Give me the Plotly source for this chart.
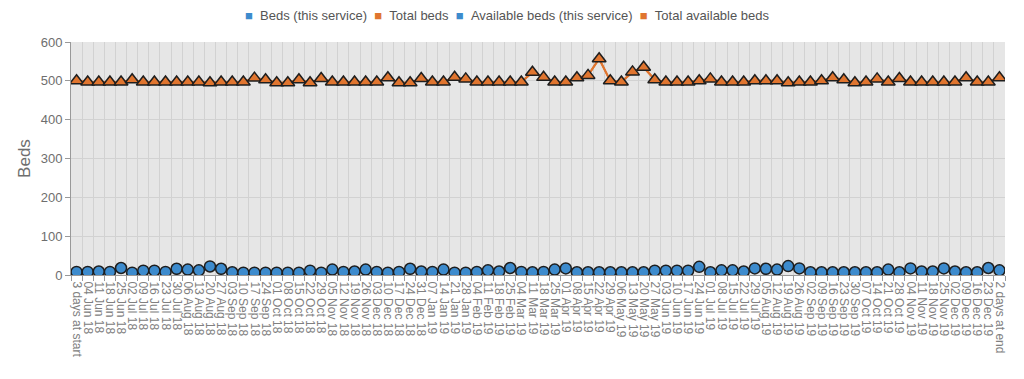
import plotly.graph_objects as go
import datetime as dt

# ---- data ----
start = dt.date(2018, 6, 4)
weeks = [start + dt.timedelta(weeks=i) for i in range(82)]
categories = ["3 days at start"] + [d.strftime("%d %b %y") for d in weeks] + ["2 days at end"]

total_beds = [
    500, 497, 497, 497, 497, 503, 497, 497, 497, 497,
    497, 497, 495, 497, 497, 497, 507, 503, 495, 495,
    503, 495, 506, 497, 497, 497, 497, 497, 508, 495,
    495, 506, 497, 497, 509, 505, 497, 497, 497, 497,
    497, 522, 509, 497, 497, 508, 514, 557, 500, 497,
    523, 535, 503, 497, 497, 497, 500, 505, 497, 497,
    497, 500, 500, 500, 495, 497, 497, 500, 508, 503,
    495, 497, 505, 497, 506, 497, 497, 497, 497, 497,
    508, 497, 497, 508,
]
total_available = list(total_beds)

service_beds = [
    8, 8, 9, 8, 18, 6, 11, 11, 8, 16,
    14, 12, 22, 16, 7, 6, 6, 6, 6, 6,
    6, 11, 6, 14, 8, 9, 14, 8, 6, 8,
    16, 9, 8, 14, 6, 6, 8, 12, 9, 18,
    8, 7, 8, 14, 17, 7, 7, 7, 7, 7,
    7, 7, 11, 11, 11, 11, 21, 7, 12, 12,
    9, 17, 16, 14, 23, 17, 7, 7, 7, 7,
    7, 7, 7, 14, 7, 17, 9, 9, 17, 9,
    7, 7, 18, 12,
]
service_available = list(service_beds)

series_names = ["Beds (this service)", "Total beds",
                "Available beds (this service)", "Total available beds"]

BLUE = "#3d8bcd"
ORANGE = "#e0752f"
OUTLINE = "#1e1e1e"

fig = go.Figure()

fig.add_trace(go.Scatter(x=categories, y=service_available, mode="lines",
                         line=dict(color="#4f7fa6", width=2), showlegend=False,
                         name=series_names[2]))
fig.add_trace(go.Scatter(x=categories, y=total_available, mode="lines",
                         line=dict(color=ORANGE, width=2), showlegend=False,
                         name=series_names[3]))
fig.add_trace(go.Scatter(x=categories, y=service_beds, mode="lines+markers",
                         line=dict(color=BLUE, width=2),
                         marker=dict(symbol="circle", size=11, color=BLUE,
                                     line=dict(color=OUTLINE, width=1.5)),
                         showlegend=False, name=series_names[0]))
fig.add_trace(go.Scatter(x=categories, y=total_beds, mode="lines+markers",
                         line=dict(color=ORANGE, width=2),
                         marker=dict(symbol="triangle-up", size=12, color=ORANGE,
                                     line=dict(color=OUTLINE, width=1.5)),
                         showlegend=False, name=series_names[1]))

# legend drawn as a single line of text with coloured squares
legend_cols = [BLUE, ORANGE, BLUE, ORANGE]
legend_text = "&nbsp;&nbsp;".join(
    f"<span style='color:{c}'>■</span>&nbsp;&nbsp;{n}" for n, c in zip(series_names, legend_cols))

# page body adds an 8px offset; figure sized so the plot lands where the reference has it
W, H = 1016, 371
L, T, R = 63, 34, 19
B = H - (275.5 - 8)
plot_w = W - L - R
plot_h = H - T - B

fig.add_annotation(text=legend_text, xref="paper", yref="paper",
                   x=(507 - 8 - L) / plot_w, y=1 + (T - 7) / plot_h,
                   xanchor="center", yanchor="middle", showarrow=False,
                   font=dict(size=13, color="#555555"))

fig.update_layout(
    width=W, height=H,
    margin=dict(l=L, r=R, t=T, b=B, autoexpand=False),
    paper_bgcolor="white",
    plot_bgcolor="#e6e6e6",
    showlegend=False,
    font=dict(family="Liberation Sans, Arial, sans-serif", color="#666666"),
    xaxis=dict(type="category", range=[-0.5, 83.5], tickangle=90,
               tickmode="linear", tick0=0, dtick=1, automargin=False,
               tickson="boundaries", showgrid=True, gridcolor="#d2d2d2", gridwidth=1,
               ticks="outside", ticklen=5, tickcolor="#999999", ticklabelstandoff=3,
               showline=True, linecolor="#999999", linewidth=1,
               tickfont=dict(size=12, color="#808080"), zeroline=False),
    yaxis=dict(range=[0, 600], dtick=100, showgrid=True, gridcolor="#d2d2d2",
               ticks="outside", ticklen=5, tickcolor="#999999", automargin=False,
               showline=True, linecolor="#999999", linewidth=1,
               tickfont=dict(size=13, color="#6e6e6e"), zeroline=False,
               title=dict(text="Beds", font=dict(size=17, color="#6e6e6e"), standoff=5)),
)

fig.write_html("out.html")
